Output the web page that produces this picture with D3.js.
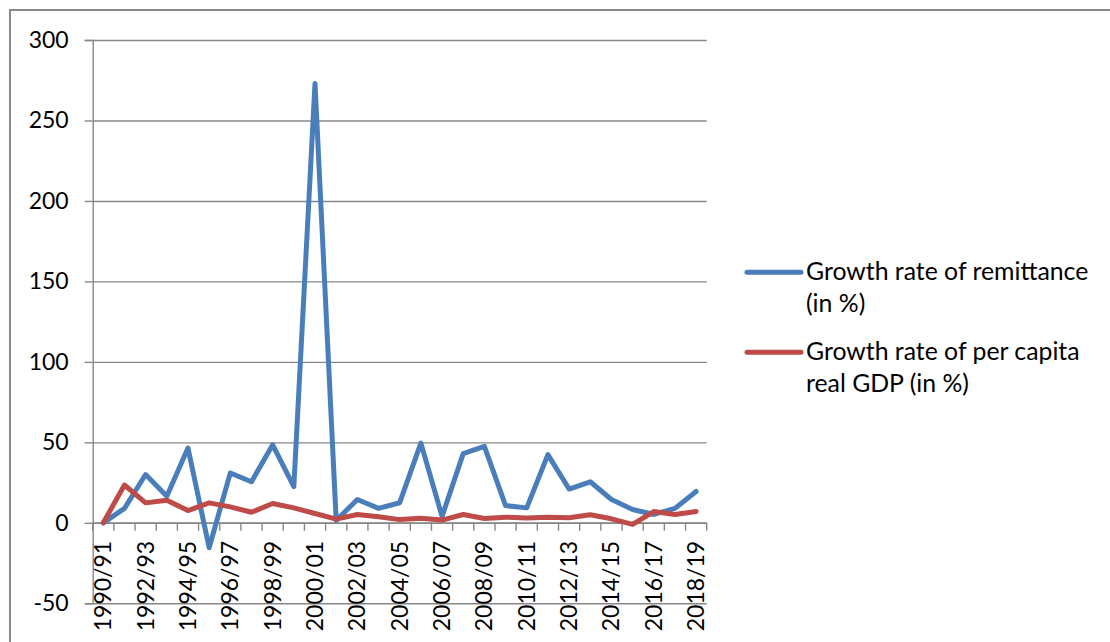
<!DOCTYPE html>
<html>
<head>
<meta charset="utf-8">
<script src="https://cdn.jsdelivr.net/npm/d3@7"></script>
<style>
  html, body { margin: 0; padding: 0; background: #fff; }
  svg { display: block; }
  text { font-family: Lato, "Open Sans", sans-serif; fill: #000; }
</style>
</head>
<body>
<svg id="chart" width="1110" height="642"></svg>
<script>
const categories = ["1990/91","1991/92","1992/93","1993/94","1994/95","1995/96","1996/97","1997/98","1998/99","1999/00",
  "2000/01","2001/02","2002/03","2003/04","2004/05","2005/06","2006/07","2007/08","2008/09","2009/10",
  "2010/11","2011/12","2012/13","2013/14","2014/15","2015/16","2016/17","2017/18","2018/19"];
const remittanceGrowth = [0, 9, 30, 16.5, 46.5, -15.5, 31, 25.5, 48.5, 22.5,
  273, 1.5, 14.5, 9, 12.5, 49.5, 4, 43, 47.5, 10.7,
  9.3, 42.4, 21, 25.5, 14.5, 8.3, 5.2, 9, 19.5];
const gdpGrowth = [0, 23.5, 12.4, 14, 7.6, 12.4, 9.9, 6.6, 12, 9.3,
  5.8, 2.3, 5.2, 3.8, 2, 2.9, 1.7, 5.2, 2.7, 3.5,
  3, 3.5, 3.2, 5, 2.5, -1, 7, 5.2, 7];
const yTicks = [-50, 0, 50, 100, 150, 200, 250, 300];
const seriesNames = [["Growth rate of remittance", "(in %)"], ["Growth rate of per capita", "real GDP (in %)"]];
const seriesColors = ["#4a7ebb", "#be4b48"];

const svg = d3.select("#chart");
const mLeft = 92.7, mRight = 706.7, mTop = 40, mBottom = 603.3;
const gridColor = "#878787";

// outer frame (cropped)
svg.append("path").attr("d", "M10,660 L10,10 L1120,10")
  .attr("fill", "none").attr("stroke", "#8a8a8a").attr("stroke-width", 2);

const x = d3.scaleBand().domain(categories).range([mLeft, mRight]).padding(0);
const y = d3.scaleLinear().domain([-50, 300]).range([mBottom, mTop]);

// horizontal gridlines + y axis
const yAxis = d3.axisLeft(y).tickValues(yTicks).tickSize(8).tickPadding(16).tickFormat(d => String(d));
const gy = svg.append("g").attr("transform", `translate(${mLeft},0)`).call(yAxis);
gy.select(".domain").attr("stroke", gridColor).attr("stroke-width", 1.4);
gy.selectAll(".tick line").attr("stroke", gridColor).attr("stroke-width", 1.4);
gy.selectAll(".tick text").attr("font-size", 23).attr("font-family", "Lato").attr("fill", "#000");
gy.selectAll(".tick").append("line")
  .attr("x1", 0).attr("x2", mRight - mLeft).attr("stroke", gridColor).attr("stroke-width", 1.4);

// x axis at 0: boundary ticks
const gx = svg.append("g").attr("transform", `translate(0,${y(0)})`);
const boundaries = d3.range(categories.length + 1).map(i => mLeft + i * x.step());
gx.selectAll("line.bt").data(boundaries).join("line").attr("class", "bt")
  .attr("x1", d => d).attr("x2", d => d).attr("y1", 0).attr("y2", 8)
  .attr("stroke", gridColor).attr("stroke-width", 1.4);
gx.append("line").attr("x1", mLeft).attr("x2", mRight).attr("stroke", gridColor).attr("stroke-width", 1.4);

// x labels every other category
gx.selectAll("text.xl").data(categories.filter((c, i) => i % 2 === 0)).join("text").attr("class", "xl")
  .attr("transform", d => `translate(${x(d) + x.bandwidth() / 2 + 8},18) rotate(-90)`)
  .attr("text-anchor", "end").attr("font-size", 23).text(d => d);

// lines
const line = d3.line().x((d, i) => x(categories[i]) + x.bandwidth() / 2).y(d => y(d)).curve(d3.curveLinear);
[remittanceGrowth, gdpGrowth].forEach((s, k) => {
  svg.append("path").datum(s).attr("d", line).attr("fill", "none")
    .attr("stroke", seriesColors[k]).attr("stroke-width", 5)
    .attr("stroke-linejoin", "round").attr("stroke-linecap", "round");
});

// legend
const legendY = [272.3, 352.3];
seriesNames.forEach((name, k) => {
  const g = svg.append("g");
  g.append("line").attr("x1", 747).attr("x2", 801).attr("y1", legendY[k]).attr("y2", legendY[k])
    .attr("stroke", seriesColors[k]).attr("stroke-width", 5).attr("stroke-linecap", "round");
  name.forEach((t, j) => {
    g.append("text").attr("x", 806).attr("y", legendY[k] + 8 + j * 31.7)
      .attr("font-size", 24.8).text(t);
  });
});
</script>
</body>
</html>
